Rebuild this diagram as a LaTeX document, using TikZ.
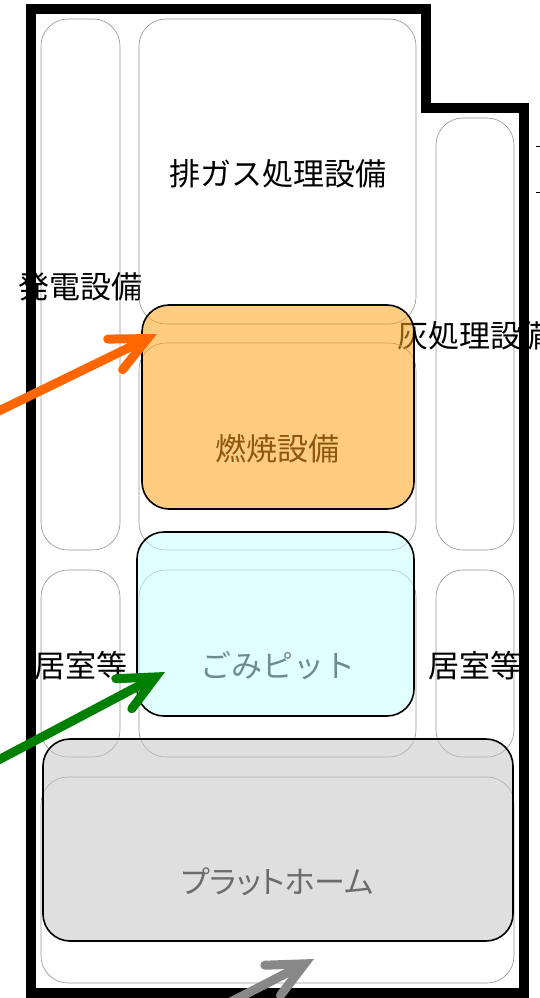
\documentclass[tikz,border=0pt]{standalone}
\usepackage{fontspec}
\setmainfont{Noto Sans CJK JP}
\usetikzlibrary{arrows.meta}
\definecolor{burnfill}{RGB}{255,162,24}
\definecolor{pitfill}{RGB}{200,255,255}
\definecolor{floorfill}{RGB}{196,196,196}
\definecolor{flowgray}{RGB}{136,136,136}
\definecolor{floworange}{RGB}{255,102,0}
\definecolor{flowgreen}{RGB}{0,128,0}
\newcommand{\zonetext}[1]{\makebox[0pt]{\smash{\raisebox{-13.5pt}{#1}}}}
\tikzset{
  zone/.style={draw=gray!85,line width=0.6pt,rounded corners=27pt,inner sep=0pt,font=\fontsize{31}{31}\selectfont},
  plant/.style={draw=black,line width=1.6pt,rounded corners=27pt,inner sep=0pt,fill opacity=0.55},
  wall/.style={draw=black,line width=10pt,miter limit=10},
  flow/.style={line width=9pt,-{Straight Barb[length=36pt,width=34pt,line cap=round,line join=miter]}},
}
\begin{document}
\begin{tikzpicture}[x=1pt,y=-1pt]
\useasboundingbox (0,0) rectangle (540,998);
\node[zone,minimum width=79pt,minimum height=531pt] (z1) at (80.5,284.5) {\zonetext{発電設備}};
\node[zone,minimum width=277pt,minimum height=305pt] (z2) at (277.5,171.5) {\zonetext{排ガス処理設備}};
\node[zone,minimum width=78pt,minimum height=432pt] (z3) at (475,334) {\zonetext{灰処理設備}};
\node[zone,minimum width=277pt,minimum height=207pt] (z4) at (277.5,446.5) {\zonetext{燃焼設備}};
\node[zone,minimum width=79pt,minimum height=187pt] (z5) at (80.5,663.5) {\zonetext{居室等}};
\node[zone,minimum width=277pt,minimum height=187pt] (z6) at (277.5,663.5) {\zonetext{ごみピット}};
\node[zone,minimum width=78pt,minimum height=187pt] (z7) at (475,663.5) {\zonetext{居室等}};
\node[zone,minimum width=473pt,minimum height=206pt] (z8) at (277.5,880) {\zonetext{\addfontfeature{RawFeature=+palt}プラットホーム}};
\node[plant,fill=burnfill,minimum width=272pt,minimum height=204pt] (p1) at (278,407) {};
\node[plant,fill=pitfill,minimum width=277pt,minimum height=184pt] (p2) at (275.5,624) {};
\node[plant,fill=floorfill,minimum width=470pt,minimum height=202pt] (p3) at (278,840) {};
\draw[wall] (31,9) -- (426,9) -- (426,108) -- (524,108) -- (524,993) -- (31,993) -- cycle;
\coordinate (t1a) at (536,146);
\coordinate (t1b) at (541,146);
\coordinate (t2a) at (536,192);
\coordinate (t2b) at (541,192);
\draw[line width=0.8pt] (t1a) -- (t1b);
\draw[line width=0.8pt] (t2a) -- (t2b);
\coordinate (a1) at (-30,425);
\coordinate (b1) at (157,334);
\coordinate (a2) at (-30,775);
\coordinate (b2) at (165,672);
\coordinate (a3) at (215,1010);
\coordinate (b3) at (314,959);
\draw[flow,color=floworange] (a1) -- (b1);
\draw[flow,color=flowgreen] (a2) -- (b2);
\draw[flow,color=flowgray] (a3) -- (b3);
\end{tikzpicture}
\end{document}
